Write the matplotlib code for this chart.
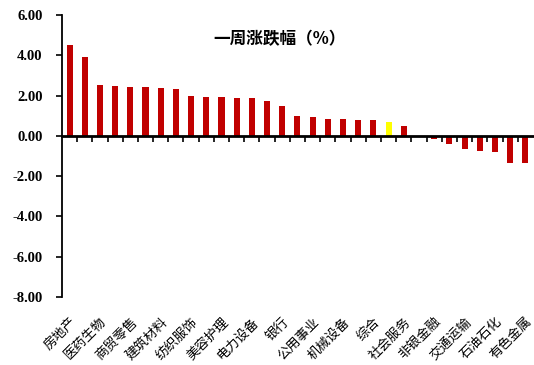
import matplotlib
matplotlib.use('Agg')
import matplotlib.pyplot as plt
from matplotlib.font_manager import FontProperties
from matplotlib.ticker import FixedLocator, FormatStrFormatter

# 申万一级行业一周涨跌幅（%），按涨跌幅排序
industries = ['房地产', '建筑装饰', '医药生物', '轻工制造', '商贸零售', '家用电器',
              '建筑材料', '食品饮料', '纺织服饰', '汽车', '美容护理', '农林牧渔',
              '电力设备', '基础化工', '银行', '传媒', '公用事业', '计算机',
              '机械设备', '国防军工', '综合', '环保', '社会服务', '通信',
              '非银金融', '电子', '交通运输', '钢铁', '石油石化', '煤炭', '有色金属']
weekly_chg = [4.49, 3.89, 2.52, 2.47, 2.43, 2.41, 2.36, 2.31, 2.00, 1.92, 1.92,
              1.88, 1.88, 1.72, 1.48, 0.97, 0.92, 0.84, 0.82, 0.79, 0.77, 0.69,
              0.49, 0.00, -0.17, -0.39, -0.65, -0.73, -0.82, -1.33, -1.36]
highlight = '环保'
yticks = [-8, -6, -4, -2, 0, 2, 4, 6]

cjk = ['Noto Sans CJK SC', 'DejaVu Sans']
num_font = FontProperties(family='Liberation Serif', weight='bold', size=10.5)

fig = plt.figure(figsize=(5.34, 3.65), dpi=100)
ax = fig.add_axes([0.116, 0.186, 0.882, 0.773])

x = list(range(len(industries)))
colors = ['#FFFF00' if n == highlight else '#C00000' for n in industries]
ax.bar(x, weekly_chg, width=0.4, color=colors, zorder=2)

ax.set_xlim(-0.5, len(industries) - 0.5)
ax.set_ylim(yticks[0], yticks[-1])

# y轴
ax.set_yticks(yticks)
ax.yaxis.set_major_formatter(FormatStrFormatter('%.2f'))
ax.tick_params(axis='y', direction='out', length=4, width=1.2, pad=10)
for lab in ax.get_yticklabels():
    lab.set_fontproperties(num_font)
ax.spines['left'].set_linewidth(1.3)

# 零轴及分类刻度
ax.spines['bottom'].set_position(('data', 0))
ax.spines['bottom'].set_linewidth(2)
ax.spines['bottom'].set_zorder(3)
ax.spines['top'].set_visible(False)
ax.spines['right'].set_visible(False)
ax.set_xticks([])
ax.xaxis.set_minor_locator(FixedLocator([i + 0.5 for i in x[:-1]]))
ax.tick_params(axis='x', which='minor', direction='out', length=4, width=1.2)

# 分类标签（隔一个显示）
sec = ax.secondary_xaxis('bottom')
sec.spines['bottom'].set_visible(False)
sec.set_xticks(x[::2])
sec.set_xticklabels(industries[::2], family=cjk, fontsize=9.5)
sec.tick_params(axis='x', length=0, pad=13)
for lab in sec.get_xticklabels():
    lab.set_rotation(45)
    lab.set_ha('right')
    lab.set_va('top')
    lab.set_rotation_mode('anchor')

ax.text(0.461, 0.914, '一周涨跌幅（%）', transform=ax.transAxes, ha='center',
        va='center', family=cjk, fontsize=12, fontweight='bold')

fig.savefig('out.png', dpi=100)
